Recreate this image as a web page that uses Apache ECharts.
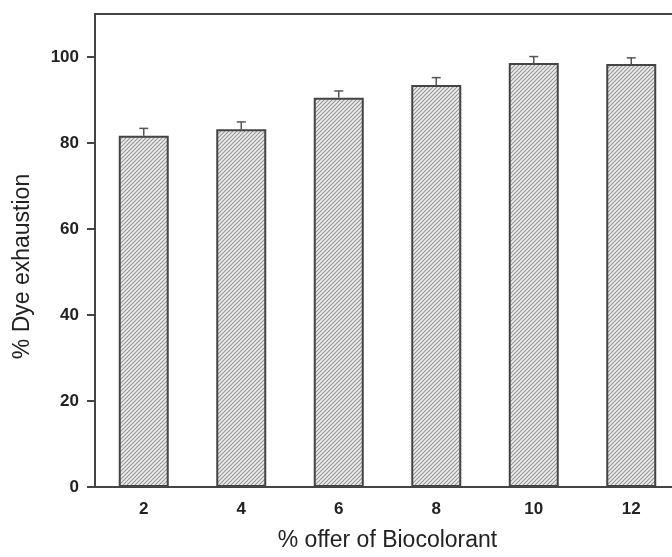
<!DOCTYPE html>
<html><head><meta charset="utf-8">
<script src="https://cdn.jsdelivr.net/npm/echarts@6/dist/echarts.min.js"></script>
<style>html,body{margin:0;padding:0;background:#fff}#c{width:672px;height:557px}</style>
</head><body><div id="c"></div>
<script>
const categories = ['2', '4', '6', '8', '10', '12'];
const exhaustion = [81.7, 83.2, 90.5, 93.5, 98.6, 98.4];
const errors = [1.7, 1.7, 1.6, 1.7, 1.5, 1.4];
const yTicks = [0, 20, 40, 60, 80, 100];

function hatch() {
  const c = document.createElement('canvas');
  c.width = 4; c.height = 4;
  const g = c.getContext('2d');
  g.fillStyle = '#ededed'; g.fillRect(0, 0, 4, 4);
  g.strokeStyle = '#959595'; g.lineWidth = 1.1;
  g.beginPath();
  g.moveTo(-1, 5); g.lineTo(5, -1);
  g.moveTo(-1, 1); g.lineTo(1, -1);
  g.moveTo(3, 5); g.lineTo(5, 3);
  g.stroke();
  return c;
}

const chart = echarts.init(document.getElementById('c'));
chart.setOption({
  animation: false,
  backgroundColor: '#fff',
  grid: { left: 95, top: 14, width: 585, height: 473, outerBoundsMode: 'none', containLabel: false,
    show: true, borderColor: '#444', borderWidth: 2 },
  xAxis: {
    type: 'category', data: categories,
    axisLine: { lineStyle: { color: '#444', width: 2 } },
    axisTick: { alignWithLabel: true, length: 6, lineStyle: { color: '#444', width: 2 } },
    axisLabel: { color: '#222', fontSize: 17, fontWeight: 'bold', fontFamily: 'Liberation Sans, Arial', margin: 14 },
    name: '% offer of Biocolorant', nameLocation: 'middle', nameGap: 42,
    nameTextStyle: { color: '#222', fontSize: 23, fontFamily: 'Liberation Sans, Arial' }
  },
  yAxis: {
    type: 'value', min: 0, max: 110, interval: 20,
    splitLine: { show: false },
    axisLine: { show: true, lineStyle: { color: '#444', width: 2 } },
    axisTick: { show: true, length: 8, customValues: yTicks, lineStyle: { color: '#444', width: 2 } },
    axisLabel: { color: '#222', fontSize: 17, fontWeight: 'bold', fontFamily: 'Liberation Sans, Arial', margin: 16,
      customValues: yTicks },
    name: '% Dye exhaustion', nameLocation: 'middle', nameGap: 61, nameRotate: 90,
    nameTextStyle: { color: '#222', fontSize: 23, fontFamily: 'Liberation Sans, Arial', padding: [0, 32, 0, 0] }
  },
  series: [
    {
      type: 'bar', data: exhaustion, barWidth: 50,
      itemStyle: { color: { image: hatch(), repeat: 'repeat' }, borderColor: '#444', borderWidth: 2 },
      z: 2
    },
    {
      type: 'custom', z: 3,
      data: exhaustion.map((v, i) => [i, v, errors[i]]),
      renderItem: function (params, api) {
        const i = api.value(0), v = api.value(1), e = api.value(2);
        const base = api.coord([i, v]);
        const top = api.coord([i, v + e]);
        const hw = 4.5;
        return {
          type: 'group',
          children: [
            { type: 'line', shape: { x1: base[0], y1: base[1], x2: top[0], y2: top[1] }, style: { stroke: '#555', lineWidth: 1.5 } },
            { type: 'line', shape: { x1: top[0] - hw, y1: top[1], x2: top[0] + hw, y2: top[1] }, style: { stroke: '#555', lineWidth: 1.5 } }
          ]
        };
      }
    }
  ]
});
</script></body></html>
